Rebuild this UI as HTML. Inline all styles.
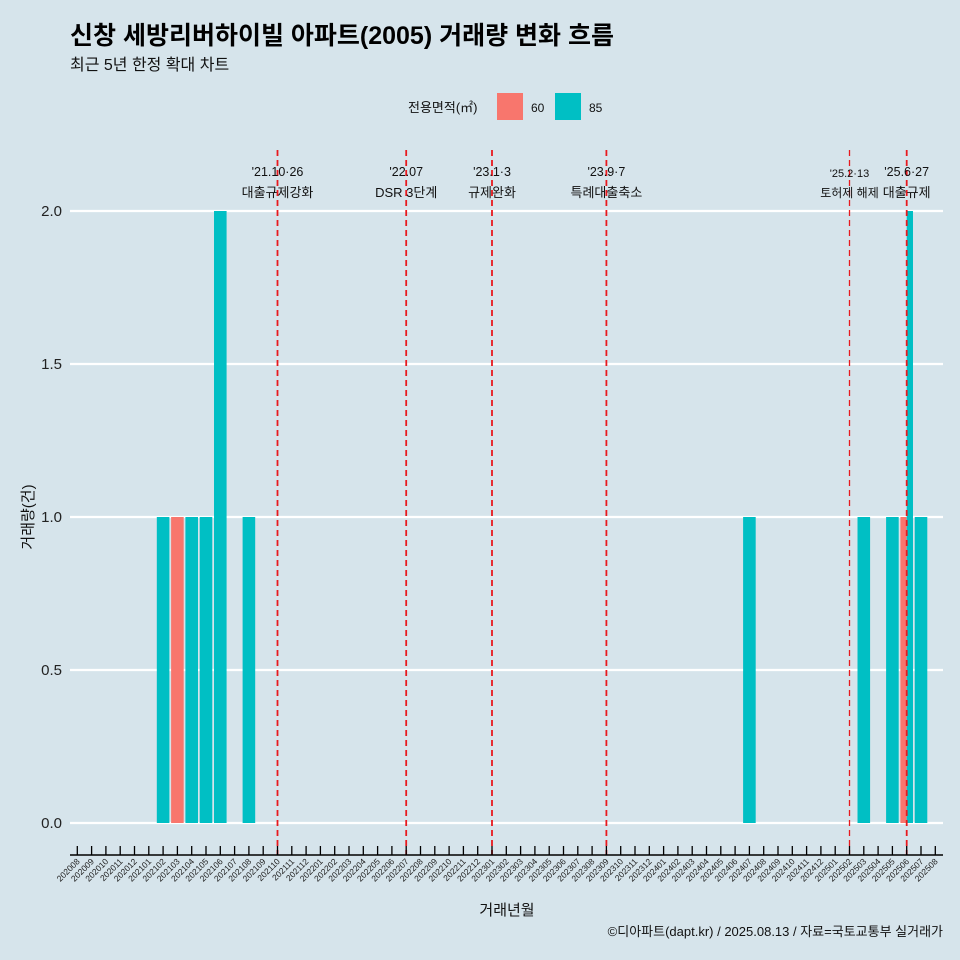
<!DOCTYPE html>
<html><head><meta charset="utf-8"><style>
body{margin:0;background:#d6e4eb;}
svg{display:block;font-family:"Liberation Sans","Noto Sans CJK KR",sans-serif;}
</style></head><body>
<svg id="c" width="960" height="960" viewBox="0 0 960 960">
<rect width="960" height="960" fill="#d6e4eb"/>
<text x="70" y="44" font-size="25" font-weight="bold" fill="#000">신창 세방리버하이빌 아파트(2005) 거래량 변화 흐름</text>
<text x="70" y="70" font-size="16" fill="#111">최근 5년 한정 확대 차트</text>
<g>
<text x="408" y="112" font-size="13" fill="#111">전용면적(㎡)</text>
<rect x="497" y="93" width="26" height="27" fill="#f8766d"/>
<text x="531" y="112" font-size="12" fill="#111">60</text>
<rect x="555" y="93" width="26" height="27" fill="#00bfc4"/>
<text x="589" y="112" font-size="12" fill="#111">85</text>
</g>
<g id="grid"></g><g id="bars"></g><g id="events"></g><g id="axes"></g>
<text x="507" y="915" font-size="15" text-anchor="middle" fill="#111">거래년월</text>
<text transform="translate(33,517) rotate(-90)" font-size="15" text-anchor="middle" fill="#111">거래량(건)</text>
<text x="943" y="936" font-size="13" text-anchor="end" fill="#111">©디아파트(dapt.kr) / 2025.08.13 / 자료=국토교통부 실거래가</text>
</svg>
<script>
const months=[];for(let y=2020;y<=2025;y++)for(let m=1;m<=12;m++){const k=y*100+m;if(k>=202008&&k<=202508)months.push(String(k));}
const s60Months=["202103","202506"];
const s60Values=[1,1];
const s85Months=["202102","202104","202105","202106","202108","202407","202503","202505","202506","202507"];
const s85Values=[1,1,1,2,1,1,1,1,2,1];
const yTicks=[0,0.5,1.0,1.5,2.0];
const eventMonths=["202110","202207","202301","202309","202502","202506"];
const eventLine1=["'21.10·26","'22.07","'23.1·3","'23.9·7","'25.2·13","'25.6·27"];
const eventLine2=["대출규제강화","DSR 3단계","규제완화","특례대출축소","토허제 해제","대출규제"];
const NS="http://www.w3.org/2000/svg";
const x0=77.3,step=14.3,yBase=823,yUnit=306;
const xs=i=>x0+i*step, ys=v=>yBase-v*yUnit;
function mk(t,a,p){const e=document.createElementNS(NS,t);for(const k in a)e.setAttribute(k,a[k]);(p||document.getElementById('c')).appendChild(e);return e;}
const G=document.getElementById('grid'),B=document.getElementById('bars'),E=document.getElementById('events'),A=document.getElementById('axes');
yTicks.forEach(v=>{
 const l=mk('line',{x1:70,x2:943,y1:ys(v),y2:ys(v),stroke:'#fff','stroke-width':2.2},G);
 
 
 const t=mk('text',{x:62,y:ys(v)+5,'font-size':15,'text-anchor':'end',fill:'#222'},G);
 
 
 t.textContent=v.toFixed(1);
});
const bw=step*0.88;
months.forEach((m,i)=>{
 const a=s60Months.indexOf(m),b=s85Months.indexOf(m);
 const both=a>=0&&b>=0;const cx=xs(i);
 if(a>=0){const w=both?bw/2:bw;const x=both?cx-bw/2:cx-bw/2;
  const r=mk('rect',{x:x,y:ys(s60Values[a]),width:w,height:s60Values[a]*yUnit,fill:'#f8766d'},B);
  
  }
 if(b>=0){const w=both?bw/2:bw;const x=both?cx:cx-bw/2;
  const r=mk('rect',{x:x,y:ys(s85Values[b]),width:w,height:s85Values[b]*yUnit,fill:'#00bfc4'},B);
  
  }
});
eventMonths.forEach((m,k)=>{
 const x=xs(months.indexOf(m));const small=m==="202502";
 const l=mk('line',{x1:x,x2:x,y1:150,y2:855,stroke:'#e8191e','stroke-width':small?1.3:1.8,'stroke-dasharray':'6,4'},E);
 
 
 const fs=small?11:12.5;
 const t1=mk('text',{x:x,y:small?177:176,'font-size':fs,'text-anchor':'middle',fill:'#111'},E);
 
 
 t1.textContent=eventLine1[k];
 const t2=mk('text',{x:x,y:197,'font-size':small?12:13,'text-anchor':'middle',fill:'#111'},E);
 
 
 t2.textContent=eventLine2[k];
});
const ax=mk('line',{x1:70,x2:943,y1:855,y2:855,stroke:'#000','stroke-width':1.5},A);


months.forEach((m,i)=>{
 const x=xs(i);
 const tk=mk('line',{x1:x,x2:x,y1:846,y2:855,stroke:'#000','stroke-width':1.3},A);
 
 
 const t=mk('text',{transform:`translate(${x+3},${862}) rotate(-45)`,'font-size':8.5,'text-anchor':'end',fill:'#222'},A);
 
 
 t.textContent=m;
});
</script>
</body></html>
